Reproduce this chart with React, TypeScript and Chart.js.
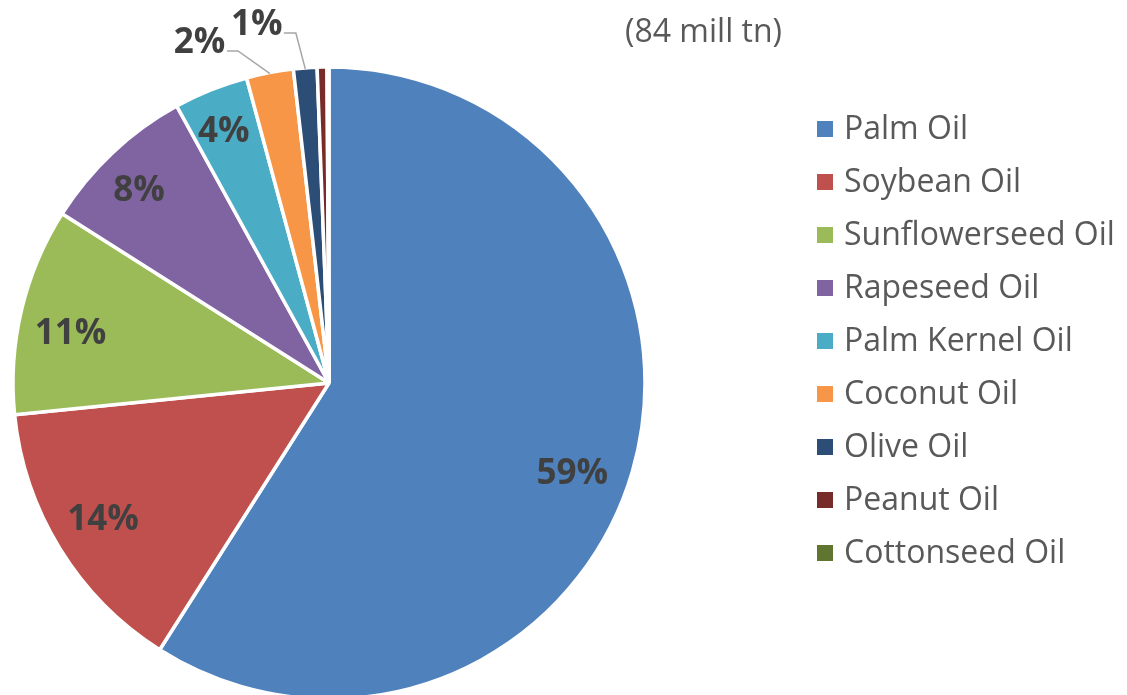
import React, { useEffect, useRef } from 'react';
import { Chart, registerables } from 'chart.js';

Chart.register(...registerables);

// ---- data ----
const categories = [
  'Palm Oil',
  'Soybean Oil',
  'Sunflowerseed Oil',
  'Rapeseed Oil',
  'Palm Kernel Oil',
  'Coconut Oil',
  'Olive Oil',
  'Peanut Oil',
  'Cottonseed Oil',
];
const shares = [59.0, 14.4, 10.6, 8.0, 3.8, 2.4, 1.2, 0.5, 0.1];
const shareLabels = ['59%', '14%', '11%', '8%', '4%', '2%', '1%', '', ''];
const subtitle = '(84 mill tn)';

// ---- styling ----
const sliceColors = ['#4F81BD', '#C0504D', '#9BBB59', '#8064A2', '#4BACC6', '#F79646', '#2C4D75', '#772C2A', '#5F7530'];
const FONT = "'Open Sans', 'DejaVu Sans', sans-serif";

type Placement =
  | { kind: 'in'; f: number; da: number }
  | { kind: 'out'; elbow: [number, number]; end: [number, number]; text: [number, number] }
  | null;

const labelPlacement: Placement[] = [
  { kind: 'in', f: 0.822, da: 3.9 },
  { kind: 'in', f: 0.834, da: 1.0 },
  { kind: 'in', f: 0.837, da: -2.0 },
  { kind: 'in', f: 0.864, da: -1.1 },
  { kind: 'in', f: 0.87, da: -0.6 },
  { kind: 'out', elbow: [-32, -22.6], end: [-43, -22.6], text: [-70.5, -33] },
  { kind: 'out', elbow: [-9.4, -35.9], end: [-21.4, -35.9], text: [-48.4, -46.4] },
  null,
  null,
];

const LEGEND_BOX_X = 817;
const LEGEND_TOP = 121;
const LEGEND_STEP = 53;
const LEGEND_BOX = 16;
const LEGEND_TEXT_X = 844;

const overlayPlugin = {
  id: 'overlay',
  afterDatasetsDraw(chart: any) {
    const ctx: CanvasRenderingContext2D = chart.ctx;
    const meta = chart.getDatasetMeta(0);
    ctx.save();
    meta.data.forEach((arc: any, i: number) => {
      const text = shareLabels[i];
      const p = labelPlacement[i];
      if (!text || !p) return;
      const { x, y, startAngle, endAngle, outerRadius } = arc.getProps(
        ['x', 'y', 'startAngle', 'endAngle', 'outerRadius'],
        true
      );
      const mid = (startAngle + endAngle) / 2;
      const r = outerRadius - 1;
      let tx: number;
      let ty: number;
      if (p.kind === 'out') {
        const ex = x + Math.cos(mid) * r;
        const ey = y + Math.sin(mid) * r;
        ctx.strokeStyle = '#A6A6A6';
        ctx.lineWidth = 1.5;
        ctx.beginPath();
        ctx.moveTo(ex, ey);
        ctx.lineTo(ex + p.elbow[0], ey + p.elbow[1]);
        ctx.lineTo(ex + p.end[0], ey + p.end[1]);
        ctx.stroke();
        tx = ex + p.text[0];
        ty = ey + p.text[1];
      } else {
        const a = mid + (p.da * Math.PI) / 180;
        tx = x + Math.cos(a) * r * p.f;
        ty = y + Math.sin(a) * r * p.f;
      }
      ctx.font = `bold 35px ${FONT}`;
      ctx.fillStyle = '#404040';
      ctx.textAlign = 'center';
      ctx.textBaseline = 'alphabetic';
      ctx.fillText(text, tx, ty + 12.5);
    });
    ctx.restore();
  },
  afterDraw(chart: any) {
    const ctx: CanvasRenderingContext2D = chart.ctx;
    const labels: string[] = chart.data.labels;
    const colors: string[] = chart.data.datasets[0].backgroundColor;
    ctx.save();
    ctx.font = `32px ${FONT}`;
    ctx.textAlign = 'left';
    ctx.textBaseline = 'alphabetic';
    labels.forEach((label, i) => {
      const top = LEGEND_TOP + i * LEGEND_STEP;
      ctx.fillStyle = colors[i];
      ctx.fillRect(LEGEND_BOX_X, top, LEGEND_BOX, LEGEND_BOX);
      ctx.fillStyle = '#595959';
      ctx.fillText(label, LEGEND_TEXT_X, top + 18);
    });
    ctx.fillStyle = '#595959';
    ctx.fillText(subtitle, 625, 42);
    ctx.restore();
  },
};

export default function App() {
  const canvasRef = useRef<HTMLCanvasElement | null>(null);

  useEffect(() => {
    document.body.style.margin = '0';
    const canvas = canvasRef.current;
    if (!canvas) return;
    const chart = new Chart(canvas, {
      type: 'pie',
      data: {
        labels: categories,
        datasets: [
          {
            data: shares,
            backgroundColor: sliceColors,
            borderColor: '#FFFFFF',
            borderWidth: 3.5,
            clip: false as any,
          } as any,
        ],
      },
      options: {
        animation: false,
        responsive: false,
        devicePixelRatio: 1,
        radius: 316,
        layout: { padding: { left: 0, right: 469, top: 71, bottom: 0 } },
        plugins: {
          legend: { display: false },
          tooltip: { enabled: false },
          title: { display: false },
        },
        events: [],
      } as any,
      plugins: [overlayPlugin],
    });
    return () => chart.destroy();
  }, []);

  return (
    <div style={{ position: 'relative', width: 1127, height: 695, overflow: 'hidden', background: '#fff' }}>
      <canvas ref={canvasRef} width={1127} height={695} style={{ display: 'block' }} />
    </div>
  );
}
